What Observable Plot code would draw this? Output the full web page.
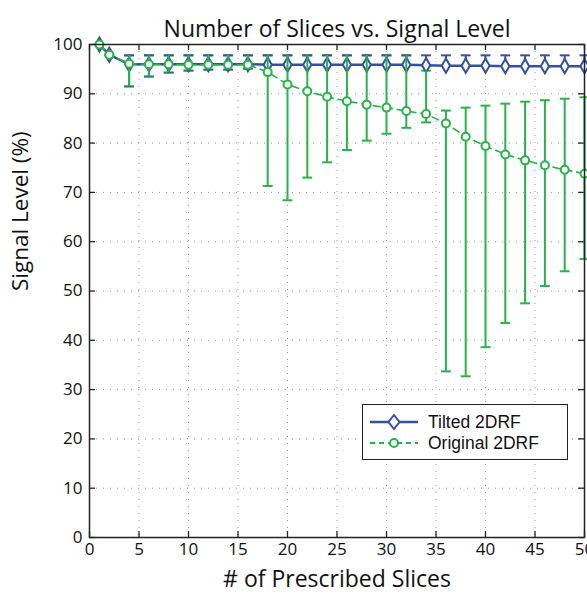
<!DOCTYPE html>
<html>
<head>
<meta charset="utf-8">
<script src="https://cdn.jsdelivr.net/npm/d3@7"></script>
<script src="https://cdn.jsdelivr.net/npm/@observablehq/plot@0.6"></script>
<style>
  body { margin: 0; background: #fff; }
  #wrap { position: relative; width: 587px; height: 602px; }
  #legend { position: absolute; left: 362px; top: 404px; width: 204px; height: 54px;
    border: 1.5px solid #222; background: #fff; font-family: "Liberation Sans", Arial, sans-serif; font-size: 17.5px; color: #111; }
  #legend .row { position: absolute; left: 0; height: 20px; display: flex; align-items: center; white-space: nowrap; }
  #legend svg { margin-left: 7px; margin-right: 10px; }
</style>
</head>
<body>
<div id="wrap"></div>
<script>
const slices = [1, 2, 4, 6, 8, 10, 12, 14, 16, 18, 20, 22, 24, 26, 28, 30, 32, 34, 36, 38, 40, 42, 44, 46, 48, 50];

const tiltedMean = [100, 97.9, 96.0, 96.0, 96.0, 96.0, 96.0, 96.0, 96.0, 95.9, 95.9, 95.9, 95.9, 95.9, 95.9, 95.9, 95.9, 95.8, 95.7, 95.7, 95.7, 95.6, 95.6, 95.6, 95.6, 95.6];
const tiltedHigh = [null, null, 97.8, 97.8, 97.8, 97.8, 97.8, 97.8, 97.8, 97.8, 97.8, 97.8, 97.8, 97.8, 97.8, 97.8, 97.8, 97.8, 97.8, 97.8, 97.8, 97.8, 97.8, 97.8, 97.8, 97.8];
const tiltedLow = [null, null, 91.5, 93.5, 94.3, 94.7, 94.9, 94.9, 95.1, null, null, null, null, null, null, null, null, null, null, null, null, null, null, null, null, null];

const originalMean = [100, 97.9, 96.1, 96.0, 96.0, 95.9, 95.9, 95.9, 95.9, 94.4, 91.9, 90.5, 89.4, 88.5, 87.8, 87.2, 86.5, 85.9, 84.0, 81.3, 79.4, 77.7, 76.5, 75.5, 74.6, 73.8];
const originalHigh = [null, null, 97.8, 97.8, 97.8, 97.8, 97.8, 97.8, 97.8, 97.8, 97.8, 97.8, 97.8, 97.8, 97.8, 97.8, 97.8, 94.7, 86.6, 87.2, 87.6, 88.0, 88.4, 88.7, 89.0, 89.3];
const originalLow = [null, null, 91.5, 93.5, 94.3, 94.7, 94.9, 94.9, 95.1, 71.3, 68.4, 73.0, 76.1, 78.6, 80.5, 81.9, 83.1, 84.2, 33.7, 32.7, 38.6, 43.5, 47.5, 51.0, 54.0, 56.5];

const xTicks = [0, 5, 10, 15, 20, 25, 30, 35, 40, 45, 50];
const yTicks = [0, 10, 20, 30, 40, 50, 60, 70, 80, 90, 100];

const titleText = "Number of Slices vs. Signal Level";
const xLabel = "# of Prescribed Slices";
const yLabel = "Signal Level (%)";
const seriesNames = ["Tilted 2DRF", "Original 2DRF"];

const BLUE = "#34509f";
const GREEN = "#29b24a";
const FONT = "'Open Sans', sans-serif";

const tilted = slices.map((x, i) => ({x, y: tiltedMean[i], lo: tiltedLow[i] ?? tiltedMean[i], hi: tiltedHigh[i]}));
const original = slices.map((x, i) => ({x, y: originalMean[i], lo: originalLow[i], hi: originalHigh[i]}));
const tErr = tilted.filter(d => d.hi != null);
const tLowCaps = tilted.filter((d, i) => tiltedLow[i] != null);
const oErr = original.filter(d => d.hi != null);
const capHalf = 0.5;

const chart = Plot.plot({
  width: 587,
  height: 602,
  marginLeft: 89,
  marginRight: 3,
  marginTop: 44,
  marginBottom: 65,
  style: {fontFamily: FONT, overflow: "visible", background: "#fff"},
  x: {domain: [0, 50]},
  y: {domain: [0, 100]},
  marks: [
    Plot.gridX(xTicks.slice(1, -1), {stroke: "#666", strokeOpacity: 0.7, strokeDasharray: "1,6"}),
    Plot.gridY(yTicks.slice(1, -1), {stroke: "#666", strokeOpacity: 0.7, strokeDasharray: "1,6"}),
    // inside ticks on all four sides
    Plot.ruleX(xTicks, {y1: 0, y2: 1.2, stroke: "#222", strokeWidth: 1.3}),
    Plot.ruleX(xTicks, {y1: 100, y2: 98.8, stroke: "#222", strokeWidth: 1.3}),
    Plot.ruleY(yTicks, {x1: 0, x2: 0.6, stroke: "#222", strokeWidth: 1.3}),
    Plot.ruleY(yTicks, {x1: 50, x2: 49.4, stroke: "#222", strokeWidth: 1.3}),
    Plot.axisX({ticks: xTicks, tickSize: 0, tickPadding: 5, fontSize: 17, label: null, fontFamily: FONT, fill: "#111"}),
    Plot.axisY({ticks: yTicks, tickSize: 0, tickPadding: 7, fontSize: 17, label: null, fontFamily: FONT, fill: "#111"}),
    // green error caps (under blue)
    Plot.link(oErr, {x1: d => d.x - capHalf, x2: d => d.x + capHalf, y1: "hi", y2: "hi", stroke: GREEN, strokeWidth: 2}),
    Plot.link(oErr, {x1: d => d.x - capHalf, x2: d => d.x + capHalf, y1: "lo", y2: "lo", stroke: GREEN, strokeWidth: 2}),
    // blue error bars
    Plot.ruleX(tErr, {x: "x", y1: "lo", y2: "hi", stroke: BLUE, strokeWidth: 2}),
    Plot.link(tErr, {x1: d => d.x - capHalf, x2: d => d.x + capHalf, y1: "hi", y2: "hi", stroke: BLUE, strokeWidth: 2}),
    Plot.link(tLowCaps, {x1: d => d.x - capHalf, x2: d => d.x + capHalf, y1: "lo", y2: "lo", stroke: BLUE, strokeWidth: 2, strokeOpacity: 0.6}),
    Plot.line(tilted, {x: "x", y: "y", stroke: BLUE, strokeWidth: 2.5}),
    Plot.dot(tilted, {x: "x", y: "y", symbol: "diamond", r: 4.3, fill: "#fff", stroke: BLUE, strokeWidth: 2}),
    // green error verticals, dashed line, circles
    Plot.ruleX(oErr, {x: "x", y1: "lo", y2: "hi", stroke: GREEN, strokeWidth: 2}),
    Plot.line(original, {x: "x", y: "y", stroke: GREEN, strokeWidth: 1.6, strokeDasharray: "7,5"}),
    Plot.dot(original, {x: "x", y: "y", r: 4, fill: "#fff", stroke: GREEN, strokeWidth: 2}),
    Plot.frame({stroke: "#222", strokeWidth: 1.5}),
    // title and axis labels
    Plot.text([titleText], {frameAnchor: "top", dy: -24, fontSize: 23, fill: "#111", fontFamily: FONT}),
    Plot.text([xLabel], {frameAnchor: "bottom", dy: 49, fontSize: 23, fill: "#111", fontFamily: FONT}),
    Plot.text([yLabel], {frameAnchor: "left", dx: -69, rotate: -90, fontSize: 22.5, fill: "#111", fontFamily: FONT})
  ]
});

const wrap = document.getElementById("wrap");
wrap.appendChild(chart);

const legend = document.createElement("div");
legend.id = "legend";
legend.innerHTML = `
  <div class="row" style="top:7px">
    <svg width="48" height="20"><line x1="0" y1="10" x2="48" y2="10" stroke="${BLUE}" stroke-width="2.5"/>
      <path d="M24 3 L29.5 10 L24 17 L18.5 10 Z" fill="#fff" stroke="${BLUE}" stroke-width="2"/></svg>
    <span>${seriesNames[0]}</span></div>
  <div class="row" style="top:28px">
    <svg width="48" height="20"><line x1="0" y1="10" x2="48" y2="10" stroke="${GREEN}" stroke-width="2" stroke-dasharray="5,4"/>
      <circle cx="24" cy="10" r="4" fill="#fff" stroke="${GREEN}" stroke-width="2"/></svg>
    <span>${seriesNames[1]}</span></div>`;
wrap.appendChild(legend);
</script>
</body>
</html>
